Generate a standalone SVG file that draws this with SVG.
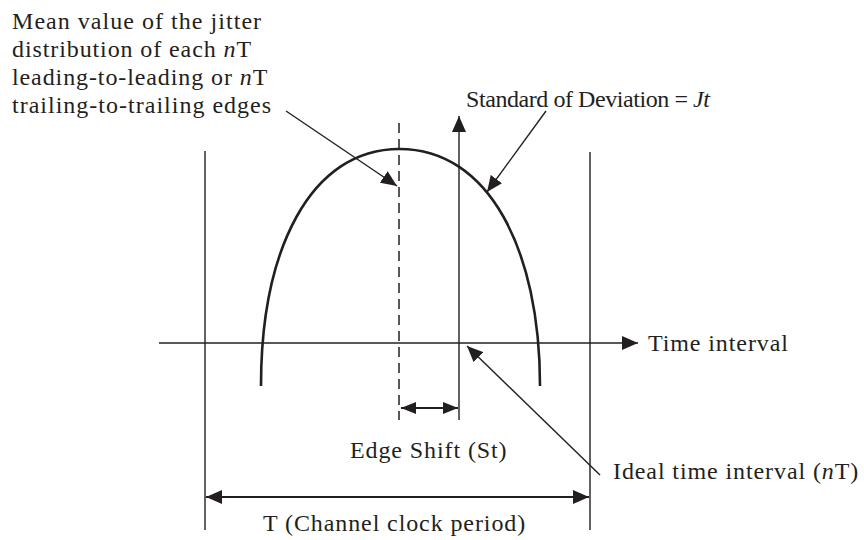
<svg xmlns="http://www.w3.org/2000/svg" width="864" height="540" viewBox="0 0 864 540">
<style>
text{font-family:"Liberation Serif","Times New Roman",serif;font-size:24px;letter-spacing:0.9px;fill:#231f20}
.ln{stroke:#231f20;stroke-width:1.4;fill:none}
.thick{stroke:#231f20;stroke-width:2.6;fill:none}
.dash{stroke:#231f20;stroke-width:1.5;fill:none;stroke-dasharray:10 6}
.dim{stroke:#231f20;stroke-width:2;fill:none}
</style>
<defs>
<marker id="ah" markerUnits="userSpaceOnUse" markerWidth="16" markerHeight="14" refX="16" refY="7" orient="auto-start-reverse" viewBox="0 0 16 14">
<path d="M0,0 L16,7 L0,14 z" fill="#231f20"/>
</marker>
<marker id="ahs" markerUnits="userSpaceOnUse" markerWidth="15" markerHeight="12" refX="15" refY="6" orient="auto-start-reverse" viewBox="0 0 15 12">
<path d="M0,0 L15,6 L0,12 z" fill="#231f20"/>
</marker>
</defs>
<g id="frame">
<line class="ln" x1="205" y1="151" x2="205" y2="530"/>
<line class="ln" x1="590" y1="152" x2="590" y2="530"/>
</g>
<g id="axes">
<line class="ln" x1="159" y1="343" x2="638" y2="343" marker-end="url(#ah)"/>
<line class="ln" x1="459" y1="420" x2="459" y2="116" marker-end="url(#ah)"/>
<line class="dash" x1="399" y1="123" x2="399" y2="420"/>
</g>
<g id="curve">
<path class="thick" d="M261,386 C261,250 310,149 399.5,149 C489,149 540,250 540,386"/>
</g>
<g id="connectors">
<line class="ln" x1="286" y1="111" x2="397" y2="186" marker-end="url(#ah)"/>
<line class="ln" x1="546" y1="111" x2="487" y2="192" marker-end="url(#ah)"/>
<line class="ln" x1="600" y1="475" x2="467" y2="346" marker-end="url(#ah)"/>
<line class="dim" x1="401" y1="408" x2="458" y2="408" marker-start="url(#ahs)" marker-end="url(#ahs)"/>
<line class="dim" x1="206" y1="497" x2="589" y2="497" marker-start="url(#ah)" marker-end="url(#ah)"/>
</g>
<g id="label-mean">
<text x="12" y="29" textLength="250" lengthAdjust="spacing">Mean value of the jitter</text>
<text x="12" y="57">distribution of each <tspan font-style="italic">n</tspan>T</text>
<text x="12" y="85">leading-to-leading or <tspan font-style="italic">n</tspan>T</text>
<text x="12" y="113" textLength="260" lengthAdjust="spacing">trailing-to-trailing edges</text>
</g>
<g id="label-std">
<text x="466" y="107" style="letter-spacing:0" textLength="244" lengthAdjust="spacing">Standard of Deviation = <tspan font-style="italic">Jt</tspan></text>
</g>
<g id="label-time">
<text x="648" y="351">Time interval</text>
</g>
<g id="label-shift">
<text x="350" y="458">Edge Shift (St)</text>
</g>
<g id="label-ideal">
<text x="613" y="479">Ideal time interval (<tspan font-style="italic">n</tspan>T)</text>
</g>
<g id="label-period">
<text x="263" y="531">T (Channel clock period)</text>
</g>
</svg>
